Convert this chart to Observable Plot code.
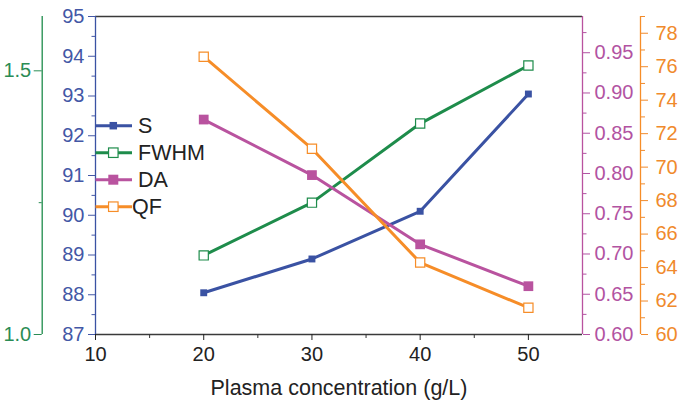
<!DOCTYPE html>
<html><head><meta charset="utf-8">
<script src="https://cdn.jsdelivr.net/npm/d3@7"></script>
<script src="https://cdn.jsdelivr.net/npm/@observablehq/plot@0.6"></script>
<style>body{margin:0;background:#fff} svg{display:block}</style>
</head><body><div id="chart"></div>
<script>
// ---- data ----
const concentration = [20, 30, 40, 50];
const S = [88.05, 88.9, 90.1, 93.05];
const FWHM = [1.15, 1.25, 1.40, 1.51];
const DA = [0.867, 0.798, 0.712, 0.660];
const QF = [76.6, 71.1, 64.3, 61.6];
const seriesNames = ["S", "FWHM", "DA", "QF"];

const xTicks = [10, 20, 30, 40, 50];
const xMinorTicks = [15, 25, 35, 45];
const sTicks = [87, 88, 89, 90, 91, 92, 93, 94, 95];
const sMinorTicks = [87.5, 88.5, 89.5, 90.5, 91.5, 92.5, 93.5, 94.5];
const fwhmTicks = [1.0, 1.5];
const fwhmMinorTicks = [1.25];
const daTicks = [0.60, 0.65, 0.70, 0.75, 0.80, 0.85, 0.90, 0.95];
const daMinorTicks = [0.625, 0.675, 0.725, 0.775, 0.825, 0.875, 0.925, 0.975];
const qfTicks = [60, 62, 64, 66, 68, 70, 72, 74, 76, 78];
const qfMinorTicks = [61, 63, 65, 67, 69, 71, 73, 75, 77, 79];

// ---- colours ----
const cS = "#3a52a3", cF = "#1e8c4b", cD = "#b9539f", cQ = "#f68d28";
const cSt = "#4357a6", cFt = "#2b8c55", cDt = "#b253a2", cQt = "#f08a2c";

// ---- secondary axes mapped into the primary (S) domain ----
const yDomain = [87, 95];
const toF = d3.scaleLinear([1.0, 1.603], yDomain);
const toD = d3.scaleLinear([0.6, 0.995], yDomain);
const toQ = d3.scaleLinear([60, 79], yDomain);

const rowsS = concentration.map((x, i) => ({x, y: S[i]}));
const rowsF = concentration.map((x, i) => ({x, y: toF(FWHM[i])}));
const rowsD = concentration.map((x, i) => ({x, y: toD(DA[i])}));
const rowsQ = concentration.map((x, i) => ({x, y: toQ(QF[i])}));

const FS = 20;
const W = 685, H = 407, ML = 95, MR = 103, MT = 16, MB = 73;

const plot = Plot.plot({
  width: W, height: H,
  marginLeft: ML, marginRight: MR, marginTop: MT, marginBottom: MB,
  style: {fontFamily: "'Liberation Sans', Arial, sans-serif", fontSize: FS + "px", background: "#fff"},
  x: {domain: [10, 55], axis: null, label: null},
  y: {domain: yDomain, axis: null, label: null},
  marks: [
    // frame lines
    Plot.ruleY([95], {stroke: "#3a3a3a", strokeWidth: 1.3}),
    Plot.ruleY([87], {stroke: "#3a3a3a", strokeWidth: 1.3}),
    Plot.ruleX([10], {stroke: cS, strokeWidth: 1.3}),
    Plot.ruleX([10], {stroke: cF, strokeWidth: 1.3, dx: -53.3}),
    Plot.ruleX([55], {stroke: cD, strokeWidth: 1.3}),
    Plot.ruleX([55], {stroke: cQ, strokeWidth: 1.3, dx: 58}),
    // x axis
    Plot.axisX(xTicks, {anchor: "bottom", tickSize: 6, tickPadding: 6, color: "#222", fontSize: FS, label: null}),
    Plot.axisX(xMinorTicks, {anchor: "bottom", tickSize: 4, stroke: "#333", fill: "none", label: null}),
    Plot.text(["Plasma concentration (g/L)"], {frameAnchor: "bottom", dy: 60, lineAnchor: "bottom", fontSize: 21.5, fill: "#222"}),
    // S axis (left)
    Plot.axisY(sTicks, {anchor: "left", tickSize: 7, tickPadding: 4, color: cSt, fontSize: FS, label: null}),
    Plot.axisY(sMinorTicks, {anchor: "left", tickSize: 3.5, stroke: cSt, fill: "none", label: null}),
    // FWHM axis (far left)
    Plot.axisY(fwhmTicks.map(toF), {anchor: "left", dx: -53.3, tickSize: 8, tickPadding: 3,
      tickFormat: d => d3.format(".1f")(toF.invert(d)), color: cFt, fontSize: FS, label: null}),
    Plot.axisY(fwhmMinorTicks.map(toF), {anchor: "left", dx: -53.3, tickSize: 3, stroke: cFt, fill: "none", label: null}),
    // DA axis (right)
    Plot.axisY(daTicks.map(toD), {anchor: "right", tickSize: 7, tickPadding: 5,
      tickFormat: d => d3.format(".2f")(toD.invert(d)), color: cDt, fontSize: FS, label: null}),
    Plot.axisY(daMinorTicks.map(toD), {anchor: "right", tickSize: 3.5, stroke: cDt, fill: "none", label: null}),
    // QF axis (far right)
    Plot.axisY(qfTicks.map(toQ), {anchor: "right", dx: 58, tickSize: 7, tickPadding: 8,
      tickFormat: d => d3.format("d")(Math.round(toQ.invert(d))), color: cQt, fontSize: FS, label: null}),
    Plot.axisY(qfMinorTicks.map(toQ), {anchor: "right", dx: 58, tickSize: 4, stroke: cQt, fill: "none", label: null}),
    // series
    Plot.line(rowsS, {x: "x", y: "y", stroke: cS, strokeWidth: 3}),
    Plot.dot(rowsS, {x: "x", y: "y", symbol: "square", r: 3.9, fill: cS, stroke: "none"}),
    Plot.line(rowsF, {x: "x", y: "y", stroke: cF, strokeWidth: 3}),
    Plot.dot(rowsF, {x: "x", y: "y", symbol: "square", r: 5.2, fill: "#fff", stroke: cF, strokeWidth: 1.2}),
    Plot.line(rowsD, {x: "x", y: "y", stroke: cD, strokeWidth: 3}),
    Plot.dot(rowsD, {x: "x", y: "y", symbol: "square", r: 5.5, fill: cD, stroke: "none"}),
    Plot.line(rowsQ, {x: "x", y: "y", stroke: cQ, strokeWidth: 3}),
    Plot.dot(rowsQ, {x: "x", y: "y", symbol: "square", r: 5.2, fill: "#fff", stroke: cQ, strokeWidth: 1.2})
  ]
});
document.getElementById("chart").appendChild(plot);

// ---- legend (inside plot, upper left) ----
const svg = d3.select(plot);
const legendItems = [
  {name: seriesNames[0], color: cS, size: 7.5, hollow: false, tx: 138},
  {name: seriesNames[1], color: cF, size: 9.5, hollow: true, tx: 138},
  {name: seriesNames[2], color: cD, size: 10, hollow: false, tx: 138},
  {name: seriesNames[3], color: cQ, size: 9.5, hollow: true, tx: 132}
];
const lg = svg.append("g").attr("text-anchor", "start");
legendItems.forEach((d, i) => {
  const y = 125.7 + i * 27;
  lg.append("line").attr("x1", 95.5).attr("x2", 132).attr("y1", y).attr("y2", y)
    .attr("stroke", d.color).attr("stroke-width", 3);
  lg.append("rect").attr("x", 113.3 - d.size / 2).attr("y", y - d.size / 2)
    .attr("width", d.size).attr("height", d.size)
    .attr("fill", d.hollow ? "#fff" : d.color).attr("stroke", d.hollow ? d.color : "none").attr("stroke-width", 1.2);
  lg.append("text").attr("x", d.tx).attr("y", y).attr("dy", "0.35em")
    .attr("text-anchor", "start")
    .attr("font-size", 21.5).attr("fill", "#222").text(d.name);
});
</script>
</body></html>
